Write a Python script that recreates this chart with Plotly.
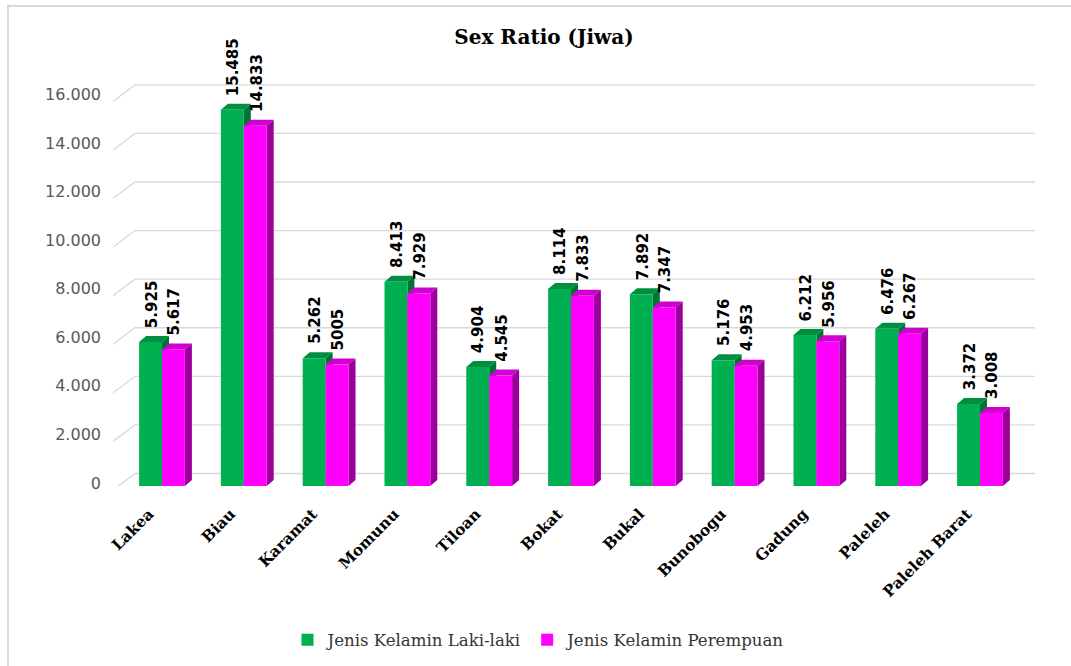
import plotly.graph_objects as go

# ---------------- data ----------------
categories = ["Lakea", "Biau", "Karamat", "Momunu", "Tiloan", "Bokat",
              "Bukal", "Bunobogu", "Gadung", "Paleleh", "Paleleh Barat"]
male = [5925, 15485, 5262, 8413, 4904, 8114, 7892, 5176, 6212, 6476, 3372]
female = [5617, 14833, 5005, 7929, 4545, 7833, 7347, 4953, 5956, 6267, 3008]
male_name = "Jenis Kelamin Laki-laki"
female_name = "Jenis Kelamin Perempuan"
title_text = "Sex Ratio (Jiwa)"
y_ticks = [0, 2000, 4000, 6000, 8000, 10000, 12000, 14000, 16000]


def fmt(v):
    return f"{v:,}".replace(",", ".")


y_tick_text = [fmt(v) for v in y_ticks]
male_labels = [fmt(v) for v in male]
female_labels = [fmt(v) for v in female]
female_labels[2] = "5005"   # shown without separator in the original

# ---------------- style / geometry ----------------
W, H = 1071, 666
L, R, T, B = 113, 1040, 60, 486          # plot area in px
SPX = 81.8                                # px per category
X0PX = 162                                # px of first category centre
SPY = 0.02429                             # px per unit
xlo = -(X0PX - L) / SPX
xhi = xlo + (R - L) / SPX
yhi = (B - T) / SPY

BW = 0.28                                 # bar width (category units)
DX = 7 / SPX                              # 3D depth x
DY = 6 / SPY                              # 3D depth y

GREEN, GREEN_TOP, GREEN_SIDE = "#00b050", "#008f40", "#007434"
MAG, MAG_TOP, MAG_SIDE = "#ff00ff", "#d000d0", "#9c009c"
GRID = "#d9d9d9"

fig = go.Figure()
fig.add_trace(go.Bar(x=list(range(len(categories))), y=male, name=male_name,
                     width=BW, offset=-BW, marker_color=GREEN,
                     marker_line_width=0))
fig.add_trace(go.Bar(x=list(range(len(categories))), y=female, name=female_name,
                     width=BW, offset=0, marker_color=MAG,
                     marker_line_width=0))

shapes = []
# gridlines on back wall, with short diagonal from the front
diag_w = 22 / SPX
front_off = -4 / SPY
back_off = 12.5 / SPY
x_end = (1035 - X0PX) / SPX
for v in y_ticks:
    shapes.append(dict(type="path", xref="x", yref="y", layer="below",
                       path=f"M {xlo},{v + front_off} L {xlo + diag_w},{v + back_off} L {x_end},{v + back_off}",
                       line=dict(color=GRID, width=1.3)))


def poly(pts, color):
    p = "M " + " L ".join(f"{a},{b}" for a, b in pts) + " Z"
    return dict(type="path", xref="x", yref="y", layer="below", path=p,
                fillcolor=color, line=dict(width=0))


for i, (m, f) in enumerate(zip(male, female)):
    xm0, xm1 = i - BW, i
    xf0, xf1 = i, i + BW
    # male top & side
    shapes.append(poly([(xm0, m), (xm0 + DX, m + DY), (xm1 + DX, m + DY), (xm1, m)], GREEN_TOP))
    shapes.append(poly([(xm1, 0), (xm1, m), (xm1 + DX, m + DY), (xm1 + DX, DY)], GREEN_SIDE))
    # female top & side
    shapes.append(poly([(xf0, f), (xf0 + DX, f + DY), (xf1 + DX, f + DY), (xf1, f)], MAG_TOP))
    shapes.append(poly([(xf1, 0), (xf1, f), (xf1 + DX, f + DY), (xf1 + DX, DY)], MAG_SIDE))

# outer chart border (only top and left visible)
shapes.append(dict(type="rect", xref="paper", yref="paper",
                   x0=(8 - L) / (R - L), x1=(1090 - L) / (R - L),
                   y0=(B - 690) / (B - T), y1=(B - 6) / (B - T),
                   line=dict(color=GRID, width=2), fillcolor="rgba(0,0,0,0)",
                   layer="above"))

annotations = []
lab_font = dict(family="DejaVu Sans", size=15, color="#000000", weight="bold")
for i, (m, f) in enumerate(zip(male, female)):
    annotations.append(dict(x=i - BW / 2, y=m, xref="x", yref="y", text=male_labels[i],
                            textangle=-90, showarrow=False, yanchor="bottom",
                            xanchor="center", yshift=12, xshift=1, font=lab_font))
    annotations.append(dict(x=i + BW / 2, y=f, xref="x", yref="y", text=female_labels[i],
                            textangle=-90, showarrow=False, yanchor="bottom",
                            xanchor="center", yshift=12, xshift=1, font=lab_font))

fig.update_layout(
    width=W, height=H,
    margin=dict(l=L, r=W - R, t=T, b=H - B, pad=0, autoexpand=False),
    paper_bgcolor="white", plot_bgcolor="white",
    title=dict(text=title_text, x=544 / W, xanchor="center", y=1 - 37 / H, yanchor="middle",
               font=dict(family="DejaVu Serif", size=20, color="#000000", weight="bold")),
    xaxis=dict(range=[xlo, xhi], tickmode="array", tickvals=list(range(len(categories))),
               ticktext=categories, tickangle=-45, showgrid=False, zeroline=False,
               showline=False, ticks="", automargin=False,
               ticklabelstandoff=15, ticklabelshift=-13,
               tickfont=dict(family="DejaVu Serif", size=15.4, color="#000000", weight="bold")),
    yaxis=dict(range=[0, yhi], tickmode="array", tickvals=y_ticks, ticktext=y_tick_text,
               showgrid=False, zeroline=False, showline=False, ticks="", automargin=False,
               ticklabelstandoff=11, ticklabelshift=-3,
               tickfont=dict(family="DejaVu Sans", size=16, color="#595959")),
    barmode="overlay",
    showlegend=True,
    legend=dict(orientation="h", x=539 / W, xref="container", xanchor="center",
                y=(H - 640) / H, yref="container", yanchor="middle",
                font=dict(family="DejaVu Serif", size=16.6, color="#333333"),
                itemwidth=30,
                bgcolor="rgba(0,0,0,0)"),
    shapes=shapes,
    annotations=annotations,
)

fig.write_html("out.html")
